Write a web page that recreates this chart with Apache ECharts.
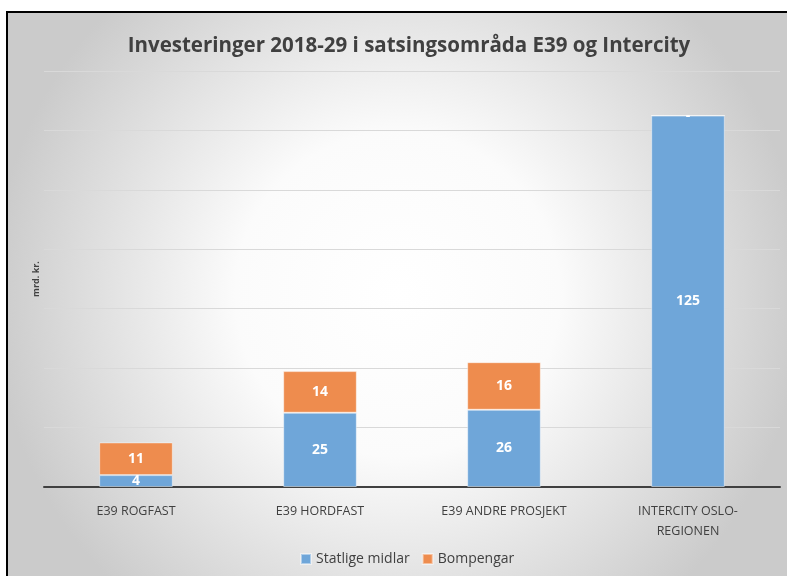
<!DOCTYPE html>
<html>
<head>
<meta charset="utf-8">
<script src="https://cdn.jsdelivr.net/npm/echarts@6/dist/echarts.min.js"></script>
<style>
  html, body { margin: 0; padding: 0; background: #fff; }
  #frame { position: absolute; left: 6px; top: 11px; border-left: 2px solid #000; border-top: 2px solid #000; }
  #chart { width: 779px; height: 563px; }
</style>
</head>
<body>
<div id="frame"><div id="chart"></div></div>
<script>
const categories = ['E39 ROGFAST', 'E39 HORDFAST', 'E39 ANDRE PROSJEKT', 'INTERCITY OSLO-\nREGIONEN'];
const statlige = [4, 25, 26, 125];
const bompengar = [11, 14, 16, 0];

const chart = echarts.init(document.getElementById('chart'));

function labelFmt(p) {
  return p.value === 0 ? '-' : p.value;
}

const option = {
  backgroundColor: {
    type: 'radial', x: 0.5, y: 0.5, r: 0.72,
    colorStops: [
      {offset: 0, color: '#ffffff'},
      {offset: 0.4, color: '#fbfbfb'},
      {offset: 1, color: '#cbcbcb'}
    ]
  },
  title: {
    text: 'Investeringer 2018-29 i satsingsområda E39 og Intercity',
    left: 396,
    textAlign: 'center',
    top: 18,
    textStyle: {fontFamily: 'Open Sans', fontSize: 20.5, fontWeight: 'bold', color: '#404040'}
  },
  legend: {
    bottom: 5,
    left: 287,
    itemWidth: 10,
    itemHeight: 10,
    itemGap: 12,
    itemTextGap: 4,
    icon: 'rect',
    textStyle: {fontFamily: 'Open Sans', fontSize: 14, color: '#404040'},
    data: ['Statlige midlar', 'Bompengar']
  },
  grid: {left: 36, right: 7, top: 58, bottom: 89},
  xAxis: {
    type: 'category',
    data: categories,
    axisLine: {lineStyle: {color: '#404040', width: 2}},
    axisTick: {show: false},
    axisLabel: {fontFamily: 'Open Sans', fontSize: 12.5, color: '#404040', margin: 14, lineHeight: 20}
  },
  yAxis: {
    type: 'value',
    min: 0, max: 140, interval: 20,
    name: 'mrd. kr.',
    nameLocation: 'middle',
    nameGap: 3,
    nameRotate: 90,
    nameTextStyle: {fontFamily: 'Open Sans', fontSize: 9, fontWeight: 'bold', color: '#404040'},
    axisLabel: {show: false},
    axisLine: {show: false},
    axisTick: {show: false},
    splitLine: {lineStyle: {color: '#d9d9d9'}}
  },
  series: [
    {
      name: 'Statlige midlar',
      type: 'bar',
      stack: 'tot',
      barWidth: '40%',
      data: statlige,
      itemStyle: {color: '#6fa6d9', borderColor: 'rgba(255,255,255,0.45)', borderWidth: 1},
      label: {show: true, color: '#fff', fontFamily: 'Open Sans', fontWeight: 'bold', fontSize: 14, formatter: labelFmt}
    },
    {
      name: 'Bompengar',
      type: 'bar',
      stack: 'tot',
      barWidth: '40%',
      data: bompengar,
      itemStyle: {color: '#ee8c4e', borderColor: 'rgba(255,255,255,0.45)', borderWidth: 1},
      label: {show: true, color: '#fff', fontFamily: 'Open Sans', fontWeight: 'bold', fontSize: 14, formatter: labelFmt}
    }
  ]
};

chart.setOption(option);
</script>
</body>
</html>
